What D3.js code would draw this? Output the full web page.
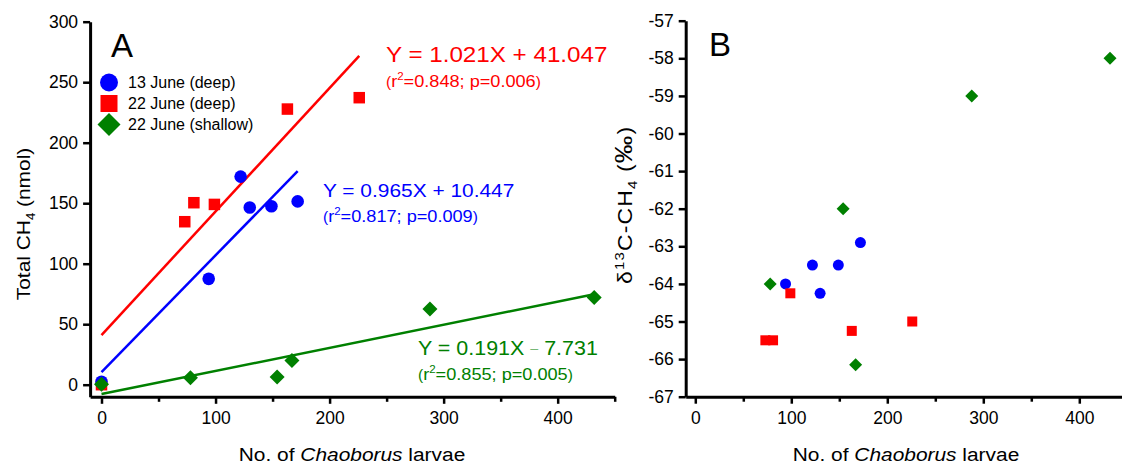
<!DOCTYPE html>
<html>
<head>
<meta charset="utf-8">
<script src="https://cdn.jsdelivr.net/npm/d3@7"></script>
<style>
  body { margin: 0; background: #fff; }
  svg text { font-family: "Liberation Sans", Arial, sans-serif; }
</style>
</head>
<body>
<div id="container"></div>
<script>
const larvae13Deep = [0, 94, 122, 130, 149, 172];
const ch4_13Deep = [2.5, 87.5, 172, 146.5, 147.5, 151.5];
const d13c_13Deep = [null, -64.0, -63.5, -64.25, -63.5, -62.9];

const larvae22Deep = [0, 73, 81, 99, 163, 226];
const ch4_22Deep = [0, 134.7, 150.4, 149, 227.8, 237.2];
const d13c_22Deep = [null, -65.5, -65.5, -64.25, -65.25, -65.0];

const larvae22Shallow = [0, 78, 154, 167, 288, 432];
const ch4_22Shallow = [0.3, 5.8, 6.4, 20, 62.6, 72];
const d13c_22Shallow = [null, -64.0, -62.0, -66.15, -59.0, -58.0];

// regression lines [slope, intercept]
const fit13Deep = [0.965, 10.447];
const fit22Deep = [1.021, 41.047];
const fit22Shallow = [0.191, -7.731];

const seriesNames = ['13 June (deep)', '22 June (deep)', '22 June (shallow)'];
const xTicks = [0, 100, 200, 300, 400];
const xMinorTicks = [50, 150, 250, 350, 450];
const yTicksA = [0, 50, 100, 150, 200, 250, 300];
const yTicksB = [-67, -66, -65, -64, -63, -62, -61, -60, -59, -58, -57];

const W = 1122, H = 474;
const svg = d3.select('#container').append('svg')
  .attr('width', W).attr('height', H);

const xA = d3.scaleLinear().domain([-10, 450]).range([90.1, 614.7]);
const yA = d3.scaleLinear().domain([-10, 300]).range([396.8, 21.7]);
const xB = d3.scaleLinear().domain([-10, 450]).range([685.7, 1127.3]);
const yB = d3.scaleLinear().domain([-67, -57]).range([396.7, 20.7]);

const BLUE = '#0000ff', RED = '#ff0000', GREEN = '#008000';
const SX = 1.1; // the original lettering is a bit wide

// text placed at (x,y), stretched horizontally
function wideText(x, y, size, rot, sx) {
  const r = rot ? ` rotate(${rot})` : '';
  return svg.append('text')
    .attr('transform', `translate(${x},${y})${r} scale(${sx || SX},1)`)
    .attr('font-size', size);
}

function drawAxes(x, y, yTicks) {
  const y0 = y.range()[0];
  const x0 = x.range()[0];

  const gx = svg.append('g').attr('transform', `translate(0,${y0})`)
    .call(d3.axisBottom(x).tickValues(xTicks).tickSize(7).tickSizeOuter(0)
      .tickPadding(8).tickFormat(d => String(d)));
  svg.append('g').attr('transform', `translate(0,${y0})`)
    .call(d3.axisBottom(x).tickValues(xMinorTicks).tickSize(5).tickFormat(''))
    .call(g => g.select('.domain').remove());

  const gy = svg.append('g').attr('transform', `translate(${x0},0)`)
    .call(d3.axisLeft(y).tickValues(yTicks).tickSize(7).tickSizeOuter(0)
      .tickPadding(5).tickFormat(d => String(d)));

  [gx, gy].forEach(g => {
    g.select('.domain').attr('stroke-width', 3);
    g.selectAll('.tick text').attr('font-size', 17.5).attr('fill', '#000')
      .style('font-family', '"Liberation Sans", Arial, sans-serif');
  });
  svg.selectAll('.tick line').attr('stroke-width', 2.5);
}

drawAxes(xA, yA, yTicksA);
drawAxes(xB, yB, yTicksB);

// axis titles
function xTitle(cx) {
  const t = wideText(cx, 461, 19).attr('text-anchor', 'middle');
  t.append('tspan').text('No. of ');
  t.append('tspan').attr('font-style', 'italic').text('Chaoborus');
  t.append('tspan').text(' larvae');
}
xTitle(352);
xTitle(906);

const tA = wideText(30, 224, 19, -90).attr('text-anchor', 'middle');
tA.append('tspan').text('Total CH');
tA.append('tspan').attr('font-size', 12).attr('dy', 5).text('4');
tA.append('tspan').attr('dy', -5).text(' (nmol)');

const tB = wideText(632, 284, 20, -90, 1.15).attr('text-anchor', 'start')
  .attr('letter-spacing', 1);
tB.append('tspan').text('δ');
tB.append('tspan').attr('font-size', 13).attr('dy', -8).text('13');
tB.append('tspan').attr('dy', 8).text('C-CH');
tB.append('tspan').attr('font-size', 13).attr('dy', 5).text('4');
tB.append('tspan').attr('dy', -5).text(' (');
tB.append('tspan').attr('font-size', 24).text('‰');
tB.append('tspan').text(')');

// panel letters
svg.append('text').attr('x', 111).attr('y', 56.5).attr('font-size', 33).text('A');
svg.append('text').attr('x', 709).attr('y', 55.5).attr('font-size', 33).text('B');

// markers
const diamond = s => `M0,${-s}L${s},0L0,${s}L${-s},0Z`;
function circles(g, xs, ys, x, y, r) {
  g.selectAll(null).data(d3.zip(xs, ys).filter(d => d[1] != null)).enter()
    .append('circle').attr('cx', d => x(d[0])).attr('cy', d => y(d[1]))
    .attr('r', r).attr('fill', BLUE);
}
function squares(g, xs, ys, x, y, s) {
  g.selectAll(null).data(d3.zip(xs, ys).filter(d => d[1] != null)).enter()
    .append('rect').attr('x', d => x(d[0]) - s / 2).attr('y', d => y(d[1]) - s / 2)
    .attr('width', s).attr('height', s).attr('fill', RED);
}
function diamonds(g, xs, ys, x, y, s) {
  g.selectAll(null).data(d3.zip(xs, ys).filter(d => d[1] != null)).enter()
    .append('path').attr('d', diamond(s))
    .attr('transform', d => `translate(${x(d[0])},${y(d[1])})`).attr('fill', GREEN);
}

// panel A fit lines
function fitLine(xs, fit, color) {
  const ext = d3.extent(xs);
  svg.append('line')
    .attr('x1', xA(ext[0])).attr('y1', yA(fit[0] * ext[0] + fit[1]))
    .attr('x2', xA(ext[1])).attr('y2', yA(fit[0] * ext[1] + fit[1]))
    .attr('stroke', color).attr('stroke-width', 2.5);
}
fitLine(larvae22Deep, fit22Deep, RED);
fitLine(larvae13Deep, fit13Deep, BLUE);
fitLine(larvae22Shallow, fit22Shallow, GREEN);

const gA = svg.append('g');
squares(gA, larvae22Deep, ch4_22Deep, xA, yA, 11.5);
circles(gA, larvae13Deep, ch4_13Deep, xA, yA, 6.3);
diamonds(gA, larvae22Shallow, ch4_22Shallow, xA, yA, 7.5);

const gB = svg.append('g');
circles(gB, larvae13Deep, d13c_13Deep, xB, yB, 5.5);
squares(gB, larvae22Deep, d13c_22Deep, xB, yB, 10);
diamonds(gB, larvae22Shallow, d13c_22Shallow, xB, yB, 6.5);

// equations
function equation(x, y, size, main, r2, p, color, dash) {
  const t = wideText(x, y, size).attr('fill', color);
  if (dash) {
    const parts = main.split('–');
    t.append('tspan').text(parts[0]);
    t.append('tspan').attr('font-size', 13).attr('fill-opacity', 0.6).attr('dy', -2).text('–');
    t.append('tspan').attr('dy', 2).text(parts[1]);
  } else {
    t.text(main);
  }
  const s = wideText(x, y + 25, 16.5).attr('fill', color);
  s.append('tspan').attr('font-size', 14).text('(');
  s.append('tspan').text('r');
  s.append('tspan').attr('font-size', 10.5).attr('dy', -7).text('2');
  s.append('tspan').attr('dy', 7).text(`=${r2}; p=${p}`);
  s.append('tspan').attr('font-size', 14).text(')');
}
equation(386, 61.5, 22, 'Y = 1.021X + 41.047', '0.848', '0.006', RED);
equation(323, 196.5, 19, 'Y = 0.965X + 10.447', '0.817', '0.009', BLUE);
equation(418, 355, 19.5, 'Y = 0.191X – 7.731', '0.855', '0.005', GREEN, true);

// legend
const legend = svg.append('g');
const lx = 109, ly = 82.5, step = 21;
legend.append('circle').attr('cx', lx).attr('cy', ly).attr('r', 9).attr('fill', BLUE);
legend.append('rect').attr('x', lx - 8.5).attr('y', ly + step - 8.5)
  .attr('width', 17).attr('height', 17).attr('fill', RED);
legend.append('path').attr('d', diamond(11.5))
  .attr('transform', `translate(${lx},${ly + 2 * step})`).attr('fill', GREEN);
seriesNames.forEach((n, i) => {
  legend.append('text').attr('x', 128).attr('y', ly + i * step + 5.5)
    .attr('font-size', 16).text(n);
});
</script>
</body>
</html>
